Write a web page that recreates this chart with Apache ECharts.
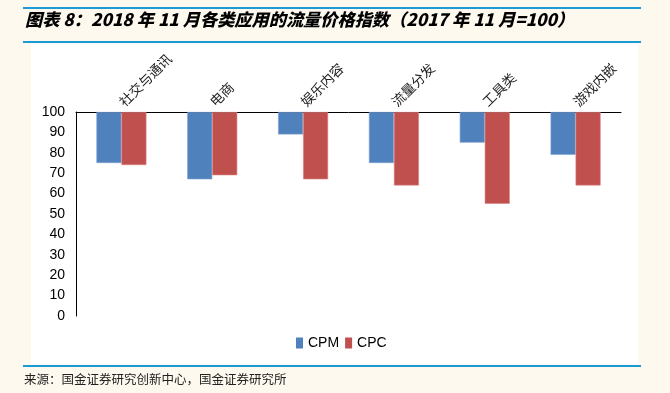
<!DOCTYPE html>
<html>
<head>
<meta charset="utf-8">
<script src="https://cdn.jsdelivr.net/npm/echarts@6/dist/echarts.min.js"></script>
<style>
html,body{margin:0;padding:0;background:#FEF9EE;}
#chart{width:670px;height:393px;}
</style>
</head>
<body>
<div id="chart"></div>
<script>
const categories = ['社交与通讯', '电商', '娱乐内容', '流量分发', '工具类', '游戏内嵌'];
const cpm = [75, 67, 89, 75, 85, 79];
const cpc = [74, 69, 67, 64, 55, 64];
const baseIndex = 100;
const yTicks = { min: 0, max: 100, interval: 10 };

const chart = echarts.init(document.getElementById('chart'), null, { renderer: 'canvas' });
const gap = arr => arr.map(v => baseIndex - v);

chart.setOption({
  backgroundColor: '#FEF9EE',
  animation: false,
  graphic: [
    { type: 'rect', shape: { x: 31, y: 43, width: 607, height: 323 }, style: { fill: '#FFFFFF' }, z: -10 },
    { type: 'rect', shape: { x: 23, y: 7, width: 618, height: 2 }, style: { fill: '#1B9AD6' }, z: -5 },
    { type: 'rect', shape: { x: 23, y: 41, width: 618, height: 2 }, style: { fill: '#1B9AD6' }, z: -5 },
    { type: 'rect', shape: { x: 23, y: 365, width: 618, height: 2 }, style: { fill: '#1B9AD6' }, z: -5 },
    { type: 'text', left: 25, top: 11, style: { text: '图表 8：2018 年 11 月各类应用的流量价格指数（2017 年 11 月=100）', fill: '#000', font: 'italic 900 17.2px "Noto Sans CJK SC", sans-serif' } },
    { type: 'text', left: 24, top: 373, style: { text: '来源：国金证券研究创新中心，国金证券研究所', fill: '#222', font: '12.5px "Noto Sans CJK SC", sans-serif' } }
  ],
  legend: {
    data: ['CPM', 'CPC'],
    left: 291, top: 331,
    itemWidth: 7, itemHeight: 11, itemGap: 6,
    icon: 'rect',
    itemStyle: { borderWidth: 0 },
    textStyle: { fontSize: 14, color: '#000', fontFamily: '"Liberation Sans", Arial, sans-serif' }
  },
  grid: { left: 76, right: 49, top: 112, bottom: 77 },
  xAxis: {
    type: 'category',
    position: 'top',
    data: categories,
    axisLine: { show: true, onZero: false, lineStyle: { color: '#000', width: 1 } },
    axisTick: { show: false },
    axisLabel: { rotate: -45, margin: 8, color: '#222', fontSize: 13.5, fontFamily: '"Noto Sans CJK SC", serif', interval: 0 }
  },
  yAxis: {
    type: 'value',
    min: yTicks.min, max: yTicks.max, interval: yTicks.interval,
    axisLine: { show: true, lineStyle: { color: '#000', width: 1 } },
    axisTick: { show: false },
    splitLine: { show: false },
    axisLabel: { margin: 11, color: '#000', fontSize: 14, fontFamily: '"Liberation Sans", Arial, sans-serif' }
  },
  series: [
    { name: 'CPM-base', type: 'bar', stack: 'cpm', data: cpm, barWidth: 25, barGap: '0%', itemStyle: { color: 'rgba(0,0,0,0)' }, silent: true },
    { name: 'CPM', type: 'bar', stack: 'cpm', data: gap(cpm), barWidth: 25, barGap: '0%', itemStyle: { color: '#4F81BD', borderColor: '#7FA3D3', borderWidth: 0.6 } },
    { name: 'CPC-base', type: 'bar', stack: 'cpc', data: cpc, barWidth: 25, barGap: '0%', itemStyle: { color: 'rgba(0,0,0,0)' }, silent: true },
    { name: 'CPC', type: 'bar', stack: 'cpc', data: gap(cpc), barWidth: 25, barGap: '0%', itemStyle: { color: '#C0504D', borderColor: '#D98583', borderWidth: 0.6 } }
  ]
});
</script>
</body>
</html>
